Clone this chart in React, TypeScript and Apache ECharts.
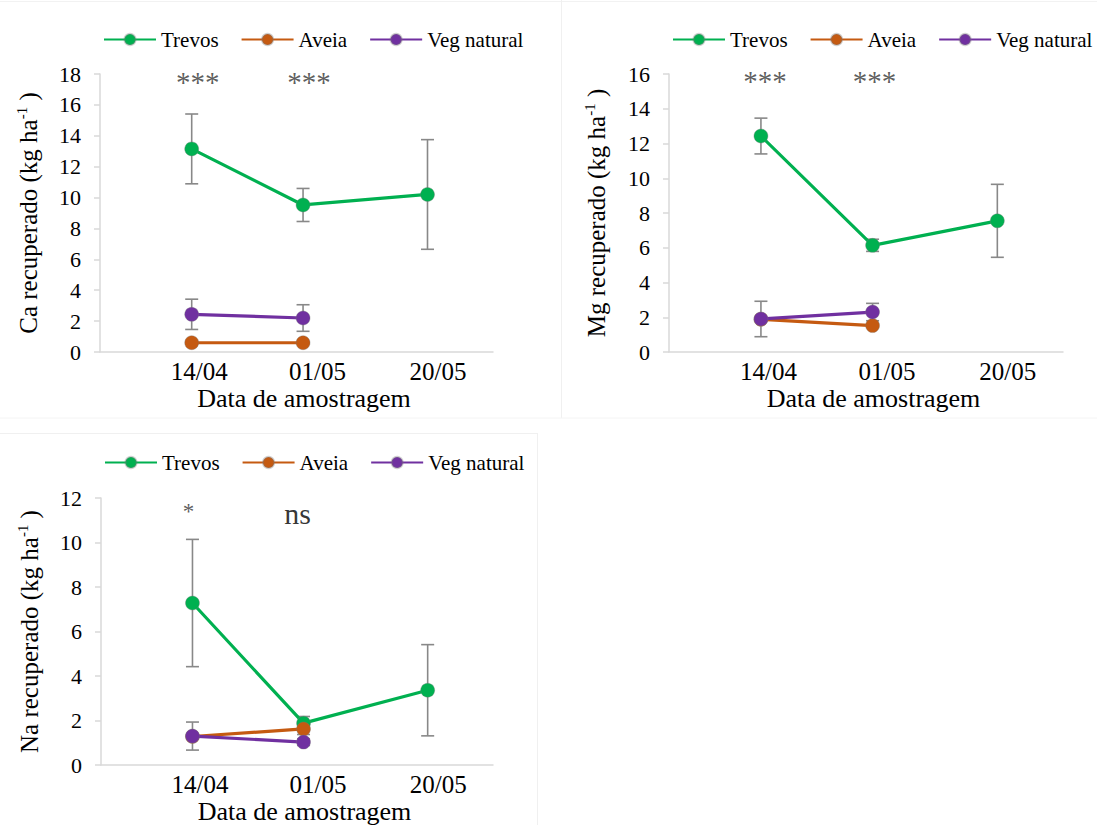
import React, { useEffect, useRef } from "react";
import * as echarts from "echarts";

// Sampling dates and their day-of-year position on the date axis
const dates = ["14/04", "01/05", "20/05"];
const dayOfYear = [104, 121, 140];
const axisDayMin = 90;
const axisDayMax = 150;

const seriesNames = ["Trevos", "Aveia", "Veg natural"];
const seriesColors = ["#00b050", "#c55a11", "#7030a0"];

// Ca recuperado (kg ha-1)
const caTrevos = [13.15, 9.52, 10.2];
const caTrevosErr = [2.26, 1.07, 3.55];
const caAveia = [0.6, 0.6, null];
const caAveiaErr = [0.08, 0.08, null];
const caVeg = [2.44, 2.2, null];
const caVegErr = [0.98, 0.86, null];
const caSig = ["***", "***"];

// Mg recuperado (kg ha-1)
const mgTrevos = [12.43, 6.14, 7.55];
const mgTrevosErr = [1.03, 0.35, 2.1];
const mgAveia = [1.88, 1.52, null];
const mgAveiaErr = [0.1, 0.1, null];
const mgVeg = [1.9, 2.3, null];
const mgVegErr = [1.02, 0.5, null];
const mgSig = ["***", "***"];

// Na recuperado (kg ha-1)
const naTrevos = [7.28, 1.88, 3.36];
const naTrevosErr = [2.86, 0.3, 2.05];
const naAveia = [1.28, 1.62, null];
const naAveiaErr = [0.1, 0.25, null];
const naVeg = [1.3, 1.03, null];
const naVegErr = [0.63, 0.15, null];
const naSig = ["*", "ns"];

// y-axis scales
const caYMax = 18;
const mgYMax = 16;
const naYMax = 12;
const yInterval = 2;

const FONT = "Liberation Serif";

const panels = [
  {
    element: "Ca",
    trevos: caTrevos, trevosErr: caTrevosErr,
    aveia: caAveia, aveiaErr: caAveiaErr,
    veg: caVeg, vegErr: caVegErr,
    sig: caSig, yMax: caYMax,
    grid: { left: 100, top: 74, width: 393, height: 278 },
    legend: { left: 103, top: 29 },
    sigY: [17.45, 17.45], sigOffset: [[6, 0], [6, 0]], sigSize: [29, 29],
    nameGap: 58,
  },
  {
    element: "Mg",
    trevos: mgTrevos, trevosErr: mgTrevosErr,
    aveia: mgAveia, aveiaErr: mgAveiaErr,
    veg: mgVeg, vegErr: mgVegErr,
    sig: mgSig, yMax: mgYMax,
    grid: { left: 669, top: 74, width: 394, height: 278 },
    legend: { left: 672, top: 29 },
    sigY: [15.6, 15.6], sigOffset: [[4, 0], [2, 0]], sigSize: [29, 29],
    nameGap: 59,
  },
  {
    element: "Na",
    trevos: naTrevos, trevosErr: naTrevosErr,
    aveia: naAveia, aveiaErr: naAveiaErr,
    veg: naVeg, vegErr: naVegErr,
    sig: naSig, yMax: naYMax,
    grid: { left: 101, top: 498, width: 392, height: 268 },
    legend: { left: 104, top: 452 },
    sigY: [11.4, 11.3], sigOffset: [[-4, 0], [-6, 0]], sigSize: [23, 30],
    nameGap: 58,
  },
];

const labelRich: Record<string, any> = {
  d0: { fontSize: 25, fontFamily: FONT, color: "#000", padding: [0, 0, 0, 15] },
  d1: { fontSize: 25, fontFamily: FONT, color: "#000", padding: [0, 0, 0, 29] },
  d2: { fontSize: 25, fontFamily: FONT, color: "#000", padding: [0, 0, 0, 21] },
};

function toPoints(values: (number | null)[]) {
  const out: number[][] = [];
  values.forEach((v, i) => {
    if (v != null) out.push([dayOfYear[i], v]);
  });
  return out;
}

function toErr(values: (number | null)[], errs: (number | null)[]) {
  const out: number[][] = [];
  values.forEach((v, i) => {
    const e = errs[i];
    if (v != null && e != null) out.push([dayOfYear[i], v - e, v + e]);
  });
  return out;
}

function errorBarSeries(idx: number, data: number[][]) {
  return {
    type: "custom",
    xAxisIndex: idx,
    yAxisIndex: idx,
    z: 1,
    silent: true,
    encode: { x: 0, y: [1, 2] },
    data,
    renderItem: (params: any, api: any) => {
      const x = api.value(0);
      const lo = api.coord([x, api.value(1)]);
      const hi = api.coord([x, api.value(2)]);
      const w = 6.5;
      const style = { stroke: "#888888", lineWidth: 1.6 };
      return {
        type: "group",
        children: [
          { type: "line", shape: { x1: lo[0], y1: lo[1], x2: hi[0], y2: hi[1] }, style },
          { type: "line", shape: { x1: lo[0] - w, y1: lo[1], x2: lo[0] + w, y2: lo[1] }, style },
          { type: "line", shape: { x1: hi[0] - w, y1: hi[1], x2: hi[0] + w, y2: hi[1] }, style },
        ],
      };
    },
  };
}

function lineSeries(idx: number, k: number, values: (number | null)[]) {
  return {
    type: "line",
    name: seriesNames[k],
    xAxisIndex: idx,
    yAxisIndex: idx,
    z: 3 + k,
    data: toPoints(values),
    symbol: "circle",
    symbolSize: 14,
    lineStyle: { color: seriesColors[k], width: 3.2 },
    itemStyle: { color: seriesColors[k], borderColor: "rgba(120,120,120,0.35)", borderWidth: 1 },
    emphasis: { disabled: true },
  };
}

function buildOption() {
  const grid: any[] = [];
  const xAxis: any[] = [];
  const yAxis: any[] = [];
  const legend: any[] = [];
  const series: any[] = [];

  panels.forEach((p, idx) => {
    grid.push({ ...p.grid, containLabel: false });
    xAxis.push({
      type: "value",
      gridIndex: idx,
      min: axisDayMin,
      max: axisDayMax,
      axisLine: { show: true, onZero: false, lineStyle: { color: "#d9d9d9", width: 1.5 } },
      axisTick: { show: false },
      splitLine: { show: false },
      axisLabel: {
        show: true,
        customValues: dayOfYear,
        margin: 7,
        fontFamily: FONT,
        fontSize: 25,
        color: "#000",
        formatter: (v: number) => {
          const i = dayOfYear.indexOf(Math.round(v));
          return i >= 0 ? `{d${i}|${dates[i]}}` : "";
        },
        rich: labelRich,
      },
      name: "Data de amostragem",
      nameLocation: "middle",
      nameGap: 33,
      nameTextStyle: { fontSize: 26, fontFamily: FONT, color: "#000", padding: [0, 0, 0, 15] },
    });
    yAxis.push({
      type: "value",
      gridIndex: idx,
      min: 0,
      max: p.yMax,
      interval: yInterval,
      axisLine: { show: true, lineStyle: { color: "#d9d9d9", width: 1.5 } },
      axisTick: { show: true, length: 6, lineStyle: { color: "#d9d9d9", width: 1.5 } },
      splitLine: { show: false },
      axisLabel: { fontSize: 22, fontFamily: FONT, color: "#000", margin: 19 },
      name: `{a|${p.element} recuperado (kg ha}{s|-1}{a| )}`,
      nameLocation: "middle",
      nameRotate: 90,
      nameGap: p.nameGap,
      nameTextStyle: {
        fontFamily: FONT,
        rich: {
          a: { fontSize: 25, fontFamily: FONT, color: "#000", lineHeight: 28 },
          s: { fontSize: 15, fontFamily: FONT, color: "#000", verticalAlign: "top", lineHeight: 28 },
        },
      },
    });
    legend.push({
      data: seriesNames,
      left: p.legend.left,
      top: p.legend.top,
      width: 440,
      padding: 0,
      orient: "horizontal",
      itemWidth: 52,
      itemHeight: 14,
      itemGap: 22,
      selectedMode: false,
      textStyle: { fontSize: 21, fontFamily: FONT, color: "#000" },
    });

    series.push(errorBarSeries(idx, toErr(p.trevos, p.trevosErr)));
    series.push(errorBarSeries(idx, toErr(p.aveia, p.aveiaErr)));
    series.push(errorBarSeries(idx, toErr(p.veg, p.vegErr)));
    series.push(lineSeries(idx, 0, p.trevos));
    series.push(lineSeries(idx, 1, p.aveia));
    series.push(lineSeries(idx, 2, p.veg));

    series.push({
      type: "scatter",
      name: "sig" + idx,
      xAxisIndex: idx,
      yAxisIndex: idx,
      symbol: "circle",
      symbolSize: 1,
      itemStyle: { color: "rgba(0,0,0,0)" },
      silent: true,
      z: 10,
      data: p.sig.map((s, i) => ({
        value: [dayOfYear[i], p.sigY[i]],
        label: {
          show: true,
          position: "inside",
          formatter: s,
          offset: p.sigOffset[i],
          fontSize: p.sigSize[i],
          fontFamily: FONT,
          color: s === "ns" ? "#000" : "#333333",
        },
      })),
    });
  });

  return {
    animation: false,
    backgroundColor: "#ffffff",
    textStyle: { fontFamily: FONT },
    grid,
    xAxis,
    yAxis,
    legend,
    series,
    graphic: [
      { type: "line", shape: { x1: 0, y1: 1.5, x2: 1097, y2: 1.5 }, style: { stroke: "#f2f2f2", lineWidth: 1 }, silent: true },
      { type: "line", shape: { x1: 561.5, y1: 0, x2: 561.5, y2: 418 }, style: { stroke: "#f0f0f0", lineWidth: 1 }, silent: true },
      { type: "line", shape: { x1: 0, y1: 418, x2: 1097, y2: 418 }, style: { stroke: "#f4f4f4", lineWidth: 1 }, silent: true },
      { type: "line", shape: { x1: 0, y1: 433.5, x2: 537, y2: 433.5 }, style: { stroke: "#f0f0f0", lineWidth: 1 }, silent: true },
      { type: "line", shape: { x1: 537.5, y1: 433, x2: 537.5, y2: 825 }, style: { stroke: "#f0f0f0", lineWidth: 1 }, silent: true },
    ],
  };
}

export default function App() {
  const ref = useRef<HTMLDivElement>(null);
  useEffect(() => {
    document.body.style.margin = "0";
    if (!ref.current) return;
    const chart = echarts.init(ref.current, undefined, { renderer: "svg" });
    chart.setOption(buildOption() as any);
    return () => chart.dispose();
  }, []);
  return (
    <div
      ref={ref}
      style={{ position: "absolute", left: 0, top: 0, width: 1097, height: 825, background: "#fff" }}
    />
  );
}
